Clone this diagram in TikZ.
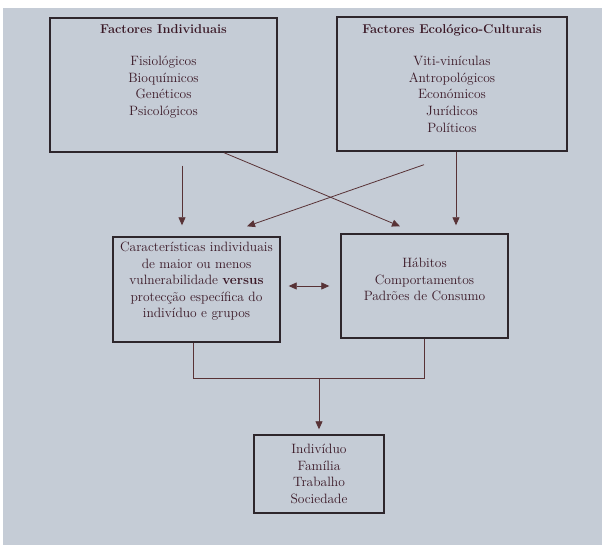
\documentclass[tikz,border=0pt]{standalone}
\usepackage{fontspec}
\usetikzlibrary{
    arrows.meta,
    calc
}
\definecolor{paper}{RGB}{197,204,214}
\definecolor{ink}{RGB}{58,24,38}
\definecolor{rule}{RGB}{46,38,44}
\definecolor{wire}{RGB}{88,50,54}
\newcommand{\diagfont}{\fontsize{13.5}{16.6}\selectfont}
\newcommand{\headfont}{\fontsize{12.8}{16.6}\selectfont\bfseries}
\tikzset {
    frame/.style = {draw = rule, line width = 1.4pt, inner sep = 7pt, text = ink, align = center, font = \diagfont},
    link/.style = {draw = wire, line width = 0.8pt},
    linked/.style = {link, arrows = {-Triangle[width = 7pt, length = 8pt]}},
    both linked/.style = {link, arrows = {Triangle[width = 7pt, length = 8pt]-Triangle[width = 7pt, length = 8pt]}},
}

\begin{document}
\begin{tikzpicture}[x = 1pt, y = 1pt]
    \useasboundingbox (0, 0) rectangle (602, -545);
    \fill [white] (0, 0) rectangle (602, -545);
    \fill [paper] (3, -8) rectangle (602, -545);
    % the two groups of factors
    \node (indiv) [frame] at (163.5, -85) {\parbox[t][120pt][t]{213pt}{\centering
        {\headfont Factores Individuais}\\[15pt]
        Fisiológicos\\ Bioquímicos\\ Genéticos\\ Psicológicos}};
    \node (eco) [frame] at (452, -84) {\parbox[t][120pt][t]{216pt}{\centering
        {\headfont Factores Ecológico-Culturais}\\[16pt]
        Viti-vinículas\\ Antropológicos\\ Económicos\\ Jurídicos\\ Políticos}};
    % middle row
    \node (carac) [frame, inner sep = 5pt] at (196.5, -289.5) {\parbox[t][95pt][t]{157pt}{\centering
        Características individuais\\ de maior ou menos\\ vulnerabilidade \textbf{versus}\\
        protecção específica do\\ indivíduo e grupos}};
    \node (habitos) [frame, inner sep = 5pt] at (424.5, -286) {\parbox[t][94pt][t]{157pt}{\centering
        \vspace*{19pt}
        Hábitos\\ Comportamentos\\ Padrões de Consumo}};
    \node (social) [frame, inner sep = 4pt, minimum width = 130pt, minimum height = 78pt] at (319, -474)
        {Indivíduo\\ Família\\ Trabalho\\ Sociedade};
    % arrows from the factors
    \draw [linked, shorten <= 13pt, shorten >= 11pt] ([xshift = -14.5pt]carac.north |- indiv.south) -- ([xshift = -14.5pt]carac.north);
    \draw [linked, shorten >= 8pt] ([xshift = 31.5pt]habitos.north |- eco.south) -- ([xshift = 31.5pt]habitos.north);
    \draw [linked] ([xshift = 60.5pt]indiv.south) -- ([xshift = -24.5pt, yshift = 7pt]habitos.north);
    \draw [linked] ([xshift = -28pt, yshift = -13pt]eco.south) -- ([xshift = 50.5pt, yshift = 10pt]carac.north);
    \draw [both linked, shorten <= 8pt, shorten >= 11pt] (carac.east |- habitos.west) -- (habitos.west);
    % joining down to the bottom box
    \coordinate (merge) at ([yshift = -36pt]carac.south -| social.north);
    \draw [link] ([xshift = -3.5pt]carac.south) |- (merge) -| (habitos.south);
    \draw [linked, shorten >= 5pt] (merge) -- (social.north);
\end{tikzpicture}
\end{document}
